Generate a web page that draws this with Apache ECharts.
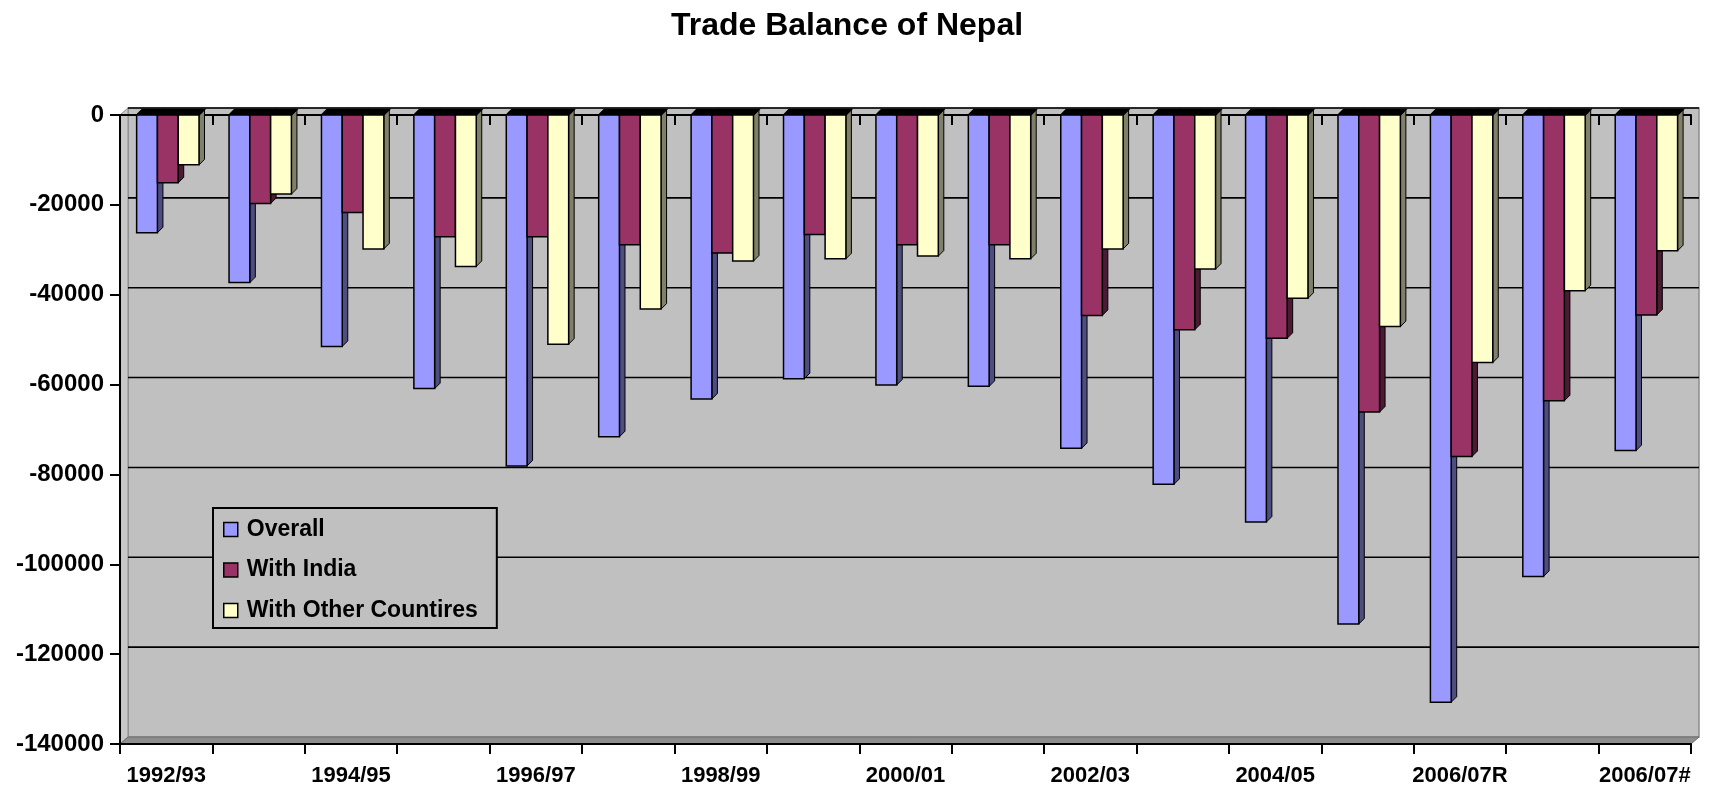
<!DOCTYPE html>
<html>
<head>
<meta charset="utf-8">
<title>Trade Balance of Nepal</title>
<script src="https://cdn.jsdelivr.net/npm/echarts@6/dist/echarts.min.js"></script>
<style>
  html, body { margin: 0; padding: 0; background: #ffffff; }
  #chart { width: 1714px; height: 791px; }
</style>
</head>
<body>
<div id="chart"></div>
<script>
// Fiscal years (only every other one is labelled on the axis)
const categories = ['1992/93', '1993/94', '1994/95', '1995/96', '1996/97', '1997/98', '1998/99',
  '1999/00', '2000/01', '2001/02', '2002/03', '2003/04', '2004/05', '2005/06', '2006/07R',
  '2007/08', '2006/07#'];

// Trade balance, Rs. million
const overall = [-26200, -37300, -51500, -60900, -78100, -71600, -63200, -58700, -60100,
  -60400, -74200, -82200, -90600, -113300, -130700, -102700, -74700];
const withIndia = [-15100, -19700, -21700, -27100, -27100, -28900, -30700, -26600, -28900,
  -28900, -44600, -47800, -49700, -66100, -76000, -63600, -44500];
const withOthers = [-11100, -17600, -29800, -33700, -51000, -43200, -32500, -32000, -31400,
  -32000, -29800, -34300, -40800, -47100, -55100, -39100, -30200];

const yTicks = [0, -20000, -40000, -60000, -80000, -100000, -120000, -140000];
const seriesNames = ['Overall', 'With India', 'With Other Countires'];

const FONT = '"Liberation Sans", Arial, Helvetica, sans-serif';
const WALL_DX = 8, WALL_DY = 7;      // depth of the chart box
const BAR_DEPTH = 5.5;               // depth of each bar
const GROUP_START = 0.18, BAR_FRAC = 0.225;

// Back wall, side wall, floor and gridlines of the 3-D box
function wallRender(params, api) {
  const band = api.size([1, 0])[0];
  const left = api.coord([0, 0])[0] - band / 2;
  const right = api.coord([categories.length - 1, 0])[0] + band / 2;
  const top = api.coord([0, yTicks[0]])[1];
  const bottom = api.coord([0, yTicks[yTicks.length - 1]])[1];
  const dx = WALL_DX, dy = WALL_DY;
  const children = [
    { type: 'rect', shape: { x: left + dx, y: top - dy, width: right - left, height: bottom - top },
      style: { fill: '#c0c0c0', stroke: '#8c8c8c', lineWidth: 1.5 } },
    { type: 'polygon', shape: { points: [[left, top], [left + dx, top - dy], [left + dx, bottom - dy], [left, bottom]] },
      style: { fill: '#c8c8c8', stroke: '#8c8c8c', lineWidth: 1 } },
    { type: 'polygon', shape: { points: [[left, bottom], [left + dx, bottom - dy], [right + dx, bottom - dy], [right, bottom]] },
      style: { fill: '#8e8e8e', stroke: '#6c6c6c', lineWidth: 1 } }
  ];
  yTicks.slice(0, -1).forEach(v => {
    const y = api.coord([0, v])[1] - dy;
    children.push({ type: 'line', shape: { x1: left + dx, y1: y, x2: right + dx, y2: y },
      style: { stroke: '#000', lineWidth: 1.6 } });
  });
  return { type: 'group', children };
}

// One 3-D column: side face, top face, front face
function barRenderer(slot, sideColor) {
  return function (params, api) {
    const idx = api.value(0), val = api.value(1);
    const band = api.size([1, 0])[0];
    const zero = api.coord([idx, 0]);
    const end = api.coord([idx, val]);
    const w = band * BAR_FRAC;
    const x0 = zero[0] - band / 2 + band * (GROUP_START + BAR_FRAC * slot);
    const y0 = zero[1], y1 = end[1];
    const d = BAR_DEPTH;
    const color = api.visual('color');
    return {
      type: 'group',
      children: [
        { type: 'polygon', shape: { points: [[x0 + w, y0], [x0 + w + d, y0 - d], [x0 + w + d, y1 - d], [x0 + w, y1]] },
          style: { fill: sideColor, stroke: '#000', lineWidth: 1 } },
        { type: 'polygon', shape: { points: [[x0, y0], [x0 + d, y0 - d], [x0 + w + d, y0 - d], [x0 + w, y0]] },
          style: { fill: '#000', stroke: '#000', lineWidth: 1.5 } },
        { type: 'rect', shape: { x: x0, y: y0, width: w, height: y1 - y0 },
          style: { fill: color, stroke: '#000', lineWidth: 1.5 } }
      ]
    };
  };
}

function toPairs(arr) { return arr.map((v, i) => [i, v]); }

const chart = echarts.init(document.getElementById('chart'), null, { renderer: 'canvas' });

chart.setOption({
  animation: false,
  backgroundColor: '#ffffff',
  title: {
    text: 'Trade Balance of Nepal',
    left: 842,
    top: 5,
    textAlign: 'center',
    textStyle: { fontFamily: FONT, fontSize: 32, fontWeight: 'bold', color: '#000' }
  },
  legend: {
    data: seriesNames,
    orient: 'vertical',
    left: 213,
    top: 508,
    padding: [10, 19, 6, 10],
    itemWidth: 14,
    itemHeight: 14,
    itemGap: 17.5,
    icon: 'rect',
    backgroundColor: '#c0c0c0',
    borderColor: '#000',
    borderWidth: 2,
    itemStyle: { borderColor: '#000', borderWidth: 1.5 },
    textStyle: { fontFamily: FONT, fontSize: 23, fontWeight: 'bold', color: '#000', padding: [0, 0, 0, 4] }
  },
  grid: { left: 120, right: 23, top: 115, height: 629, containLabel: false },
  xAxis: [
    {
      type: 'category',
      data: categories,
      position: 'bottom',
      axisLine: { show: true, onZero: false, lineStyle: { color: '#000', width: 2 } },
      axisTick: { show: true, interval: 0, length: 10, lineStyle: { color: '#000', width: 2 } },
      axisLabel: { interval: 1, margin: 21, fontFamily: FONT, fontSize: 22, fontWeight: 'bold', color: '#000' },
      splitLine: { show: false }
    },
    {
      type: 'category',
      data: categories,
      position: 'top',
      axisLine: { show: true, onZero: false, lineStyle: { color: '#000', width: 2 } },
      axisTick: { show: true, interval: 0, inside: true, length: 10, lineStyle: { color: '#000', width: 2 } },
      axisLabel: { show: false },
      splitLine: { show: false }
    }
  ],
  yAxis: {
    type: 'value',
    min: yTicks[yTicks.length - 1],
    max: yTicks[0],
    interval: yTicks[0] - yTicks[1],
    axisLine: { show: true, lineStyle: { color: '#000', width: 2 } },
    axisTick: { show: true, length: 10, lineStyle: { color: '#000', width: 2 } },
    axisLabel: { margin: 16, fontFamily: FONT, fontSize: 24, fontWeight: 'bold', color: '#000',
      formatter: v => String(v) },
    splitLine: { show: false }
  },
  series: [
    { type: 'custom', name: 'box', z: -1, silent: true, renderItem: wallRender,
      encode: { x: 0, y: 1 }, data: [[0, 0]] },
    { type: 'custom', name: seriesNames[0], renderItem: barRenderer(0, '#4d4d80'),
      itemStyle: { color: '#9999ff' }, encode: { x: 0, y: 1 }, data: toPairs(overall) },
    { type: 'custom', name: seriesNames[1], renderItem: barRenderer(1, '#4c1a33'),
      itemStyle: { color: '#993366' }, encode: { x: 0, y: 1 }, data: toPairs(withIndia) },
    { type: 'custom', name: seriesNames[2], renderItem: barRenderer(2, '#80806a'),
      itemStyle: { color: '#ffffcc' }, encode: { x: 0, y: 1 }, data: toPairs(withOthers) }
  ]
});
</script>
</body>
</html>
